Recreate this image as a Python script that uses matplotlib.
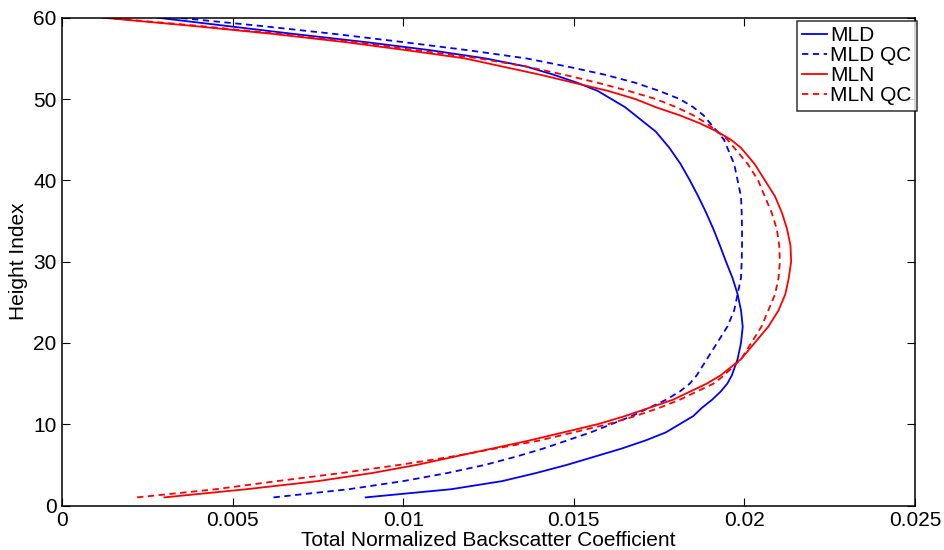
import numpy as np
import matplotlib
matplotlib.use('Agg')
import matplotlib.pyplot as plt

plt.rcParams['font.family'] = ['Liberation Sans', 'DejaVu Sans']

# height levels where the curves were read
h = [1, 2, 3, 4, 5, 6, 7, 8, 9, 10, 11, 12, 13, 14, 15, 16, 18, 20, 22, 24,
     26, 28, 30, 32, 34, 36, 38, 40, 42, 44, 45, 46, 47, 48, 49, 50, 51, 52,
     53, 54, 55, 56, 57, 58, 59, 60]

mld = [0.0089, 0.0114, 0.0129, 0.0139, 0.0148, 0.0156, 0.0164, 0.0171, 0.0177,
       0.0181, 0.0185, 0.01875, 0.01905, 0.0193, 0.0195, 0.01963, 0.0198,
       0.0199, 0.01995, 0.0199, 0.0198, 0.01965, 0.01946, 0.01928, 0.01909,
       0.01888, 0.01865, 0.0184, 0.01813, 0.0178, 0.0176, 0.0174, 0.0171,
       0.0168, 0.0165, 0.0161, 0.0157, 0.0151, 0.0144, 0.0136, 0.0124, 0.0108,
       0.0089, 0.0068, 0.0048, 0.0028]

mld_qc = [0.0062, 0.0084, 0.0100, 0.0113, 0.0124, 0.0133, 0.0141, 0.0148,
          0.0155, 0.0161, 0.0167, 0.0172, 0.0177, 0.0181, 0.0184, 0.0186,
          0.0189, 0.0192, 0.0195, 0.0197, 0.0198, 0.0199, 0.01992, 0.01993,
          0.01993, 0.01992, 0.0199, 0.0198, 0.0197, 0.0195, 0.0194, 0.0192,
          0.0190, 0.0188, 0.0185, 0.0181, 0.0175, 0.0168, 0.0159, 0.0148,
          0.0136, 0.0119, 0.0100, 0.0080, 0.0058, 0.0034]

mln = [0.0030, 0.0054, 0.0075, 0.0091, 0.0104, 0.0115, 0.0126, 0.0137, 0.0147,
       0.0157, 0.0165, 0.0172, 0.0179, 0.0184, 0.0189, 0.0193, 0.0199, 0.0203,
       0.0207, 0.0210, 0.0212, 0.0213, 0.02137, 0.02135, 0.02125, 0.0211,
       0.0209, 0.0206, 0.0203, 0.0199, 0.0196, 0.0192, 0.0187, 0.0181, 0.0174,
       0.0168, 0.0160, 0.0150, 0.0140, 0.0129, 0.0118, 0.0101, 0.0083, 0.0062,
       0.0038, 0.0012]

mln_qc = [0.0022, 0.0045, 0.0063, 0.0082, 0.0099, 0.0114, 0.0127, 0.0140,
          0.0150, 0.0160, 0.0168, 0.0175, 0.0181, 0.0186, 0.0191, 0.0194,
          0.0199, 0.0202, 0.0205, 0.0207, 0.0209, 0.0210, 0.02104, 0.02102,
          0.02095, 0.0208, 0.0206, 0.0204, 0.0201, 0.0197, 0.0195, 0.0192,
          0.0189, 0.0185, 0.0180, 0.0174, 0.0166, 0.0157, 0.0147, 0.0136,
          0.0122, 0.0104, 0.0086, 0.0064, 0.0040, 0.0013]

xticks = [0, 0.005, 0.01, 0.015, 0.02, 0.025]
xticklabels = ['0', '0.005', '0.01', '0.015', '0.02', '0.025']
yticks = [0, 10, 20, 30, 40, 50, 60]

fig = plt.figure(figsize=(9.44, 5.5), dpi=100)
ax = fig.add_axes([0.0657, 0.0809, 0.9036, 0.8869])

dash = (0, (3.5, 2.5))
ax.plot(mld, h, color='#0000ff', lw=1.3, label='MLD')
ax.plot(mld_qc, h, color='#0000ff', lw=1.3, ls=dash, label='MLD QC')
ax.plot(mln, h, color='#ff0000', lw=1.3, label='MLN')
ax.plot(mln_qc, h, color='#ff0000', lw=1.3, ls=dash, label='MLN QC')

ax.set_xlim(0, 0.025)
ax.set_ylim(0, 60)
ax.set_xticks(xticks)
ax.set_xticklabels(xticklabels)
ax.set_yticks(yticks)
ax.tick_params(direction='in', top=True, right=True, labelsize=15,
               length=6, width=0.8, pad=4)
for s in ax.spines.values():
    s.set_linewidth(1.1)

ax.set_xlabel('Total Normalized Backscatter Coefficient', fontsize=15)
ax.xaxis.set_label_coords(0.5, -0.053)
ax.set_ylabel('Height Index', fontsize=15)
ax.yaxis.set_label_coords(-0.040, 0.5)

leg = ax.legend(loc='upper right', bbox_to_anchor=(1.002, 0.993),
                fontsize=15, frameon=True, fancybox=False, borderpad=0.25,
                labelspacing=0.05, handlelength=1.2, handletextpad=0.15,
                borderaxespad=0)
leg.get_frame().set_edgecolor('black')
leg.get_frame().set_linewidth(1.1)

plt.savefig('out.png', dpi=100)
